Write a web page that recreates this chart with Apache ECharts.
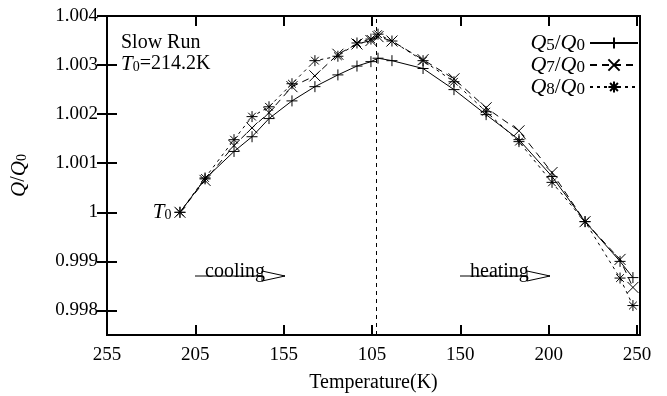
<!DOCTYPE html>
<html>
<head>
<meta charset="utf-8">
<script src="https://cdn.jsdelivr.net/npm/echarts@6/dist/echarts.min.js"></script>
<style>
  html, body { margin: 0; padding: 0; background: #fff; }
  #chart { width: 667px; height: 396px; }
</style>
</head>
<body>
<div id="chart"></div>
<script>
// x is the position along the run: cooling 255 -> 105 K, then heating 105 -> 250 K
const xPos = [41.3, 55.5, 71.9, 82.1, 91.7, 104.7, 117.7, 130.7, 141.5, 149.4,
              153.4, 161.3, 178.9, 196.4, 214.6, 233.2, 251.9, 270.6, 290.4, 297.7];
const q5 = [1.0000, 1.00068, 1.00124, 1.00154, 1.00191, 1.00227, 1.00256, 1.00280, 1.00298, 1.00307,
            1.00314, 1.00309, 1.00293, 1.00250, 1.00199, 1.00148, 1.00073, 0.99981, 0.99900, 0.99867];
const q7 = [1.0000, 1.00065, 1.00136, 1.00172, 1.00203, 1.00256, 1.00278, 1.00322, 1.00343, 1.00350,
            1.00358, 1.00349, 1.00311, 1.00272, 1.00213, 1.00166, 1.00081, 0.99981, 0.99904, 0.99847];
const q8 = [1.0000, 1.00070, 1.00148, 1.00195, 1.00215, 1.00262, 1.00309, 1.00318, 1.00345, 1.00353,
            1.00363, 1.00349, 1.00309, 1.00266, 1.00205, 1.00144, 1.00061, 0.99981, 0.99866, 0.99810];

const xTickPos = [0, 50, 100, 150, 200, 250, 300];
const xTickLabels = ['255', '205', '155', '105', '150', '200', '250'];
const yTicks = [0.998, 0.999, 1.000, 1.001, 1.002, 1.003, 1.004];
const tMinPos = 152.5; // lowest temperature reached

const FONT = 'Liberation Serif';
const plusPath = 'path://M0,5L10,5M5,0L5,10';
const crossPath = 'path://M0,0L10,10M10,0L0,10';
const starPath = 'path://M0,5L10,5M5,0L5,10M1.5,1.5L8.5,8.5M8.5,1.5L1.5,8.5';

const sub = {
    q: { fontFamily: FONT, fontStyle: 'italic', fontSize: 21, color: '#000', lineHeight: 18 },
    n: { fontFamily: FONT, fontSize: 20, color: '#000', lineHeight: 18 },
    s: { fontFamily: FONT, fontSize: 14, color: '#000', lineHeight: 18, padding: [7, 0, 0, 0] },
};
// legend digits are nearly full size
const legRich = {
    q: { fontFamily: FONT, fontStyle: 'italic', fontSize: 22, color: '#000', lineHeight: 18 },
    n: { fontFamily: FONT, fontSize: 21, color: '#000', lineHeight: 18 },
    s: { fontFamily: FONT, fontSize: 17, color: '#000', lineHeight: 18, padding: [5, 0, 0, 0] },
};

function mkSeries(name, values, symbol, dash) {
    return {
        name: name,
        type: 'line',
        data: xPos.map((x, i) => [x, values[i]]),
        symbol: symbol,
        symbolSize: 11,
        showSymbol: true,
        lineStyle: { color: '#000', width: 1, type: dash },
        itemStyle: { color: 'none', borderColor: '#000', borderWidth: 1 },
        emphasis: { disabled: true },
        z: 3,
    };
}

const chart = echarts.init(document.getElementById('chart'));

const series = [
    mkSeries('Q5/Q0', q5, plusPath, 'solid'),
    mkSeries('Q7/Q0', q7, crossPath, [7, 5]),
    mkSeries('Q8/Q0', q8, starPath, [3, 4]),
];
series[0].markLine = {
    silent: true,
    symbol: 'none',
    label: { show: false },
    lineStyle: { color: '#000', width: 1, type: [4, 4] },
    data: [{ xAxis: tMinPos }],
};
series[0].markPoint = {
    silent: true,
    symbol: 'circle',
    symbolSize: 1,
    itemStyle: { color: 'transparent' },
    label: { show: true, position: 'left', distance: 8, formatter: '{q|T}{s|0}', rich: sub },
    data: [{ coord: [xPos[0], q5[0]] }],
};

function arrow(x0, x1, y, text) {
    return [
        { type: 'line', shape: { x1: x0, y1: y, x2: x1, y2: y }, style: { stroke: '#000', lineWidth: 1 } },
        { type: 'polygon', shape: { points: [[x1 - 23, y - 5], [x1, y], [x1 - 23, y + 5]] },
          style: { fill: '#fff', stroke: '#000', lineWidth: 1 } },
        { type: 'text', x: x0 + 10, y: y + 6,
          style: { text: text, font: '20px "' + FONT + '"', fill: '#000', verticalAlign: 'bottom' } },
    ];
}

chart.setOption({
    animation: false,
    backgroundColor: '#fff',
    grid: {
        left: 107, right: 27, top: 16, bottom: 61,
        outerBoundsMode: 'none',
        show: true, borderColor: '#000', borderWidth: 2,
    },
    legend: {
        right: 28,
        top: 32,
        padding: 0,
        orient: 'vertical',
        align: 'right',
        itemWidth: 48,
        itemHeight: 14,
        itemGap: 0,
        selectedMode: false,
        formatter: name => '{q|Q}{s|' + name[1] + '}{n|/}{q|Q}{s|0}',
        textStyle: { fontFamily: FONT, fontSize: 21, color: '#000', rich: legRich },
        data: ['Q5/Q0', 'Q7/Q0', 'Q8/Q0'],
    },
    xAxis: [{
        type: 'value',
        min: 0,
        max: 301.7,
        name: 'Temperature(K)',
        nameLocation: 'middle',
        nameGap: 38,
        nameTextStyle: { fontFamily: FONT, fontSize: 20, color: '#000' },
        axisLine: { show: false },
        splitLine: { show: false },
        axisTick: { inside: true, length: 10, customValues: xTickPos, lineStyle: { color: '#000', width: 2 } },
        axisLabel: {
            customValues: xTickPos, margin: 11, color: '#000', fontFamily: FONT, fontSize: 19,
            formatter: v => xTickLabels[xTickPos.indexOf(Math.round(v))],
        },
    }, {
        type: 'value',
        position: 'top',
        min: 0,
        max: 301.7,
        axisLine: { show: false },
        splitLine: { show: false },
        axisLabel: { show: false },
        axisTick: { inside: true, length: 10, customValues: xTickPos, lineStyle: { color: '#000', width: 2 } },
    }],
    yAxis: [{
        type: 'value',
        min: 0.9975,
        max: 1.004,
        name: '{q|Q}{n|/}{q|Q}{s|0}',
        nameLocation: 'middle',
        nameGap: 79,
        nameRotate: 90,
        nameTextStyle: { rich: sub },
        axisLine: { show: false },
        splitLine: { show: false },
        axisTick: { inside: true, length: 10, customValues: yTicks, lineStyle: { color: '#000', width: 2 } },
        axisLabel: {
            customValues: yTicks, margin: 9, color: '#000', fontFamily: FONT, fontSize: 19,
            formatter: v => (Math.abs(v - 1) < 1e-9 ? '1' : v.toFixed(3)),
        },
    }, {
        type: 'value',
        position: 'right',
        min: 0.9975,
        max: 1.004,
        axisLine: { show: false },
        splitLine: { show: false },
        axisLabel: { show: false },
        axisTick: { inside: true, length: 10, customValues: yTicks, lineStyle: { color: '#000', width: 2 } },
    }],
    graphic: [
        { type: 'text', x: 121, y: 33,
          style: { text: 'Slow Run', font: '20px "' + FONT + '"', fill: '#000' } },
        { type: 'text', x: 121, y: 55,
          style: { text: '{q|T}{s|0}{n|=214.2K}', rich: sub, fill: '#000' } },
        ...arrow(195, 285, 276, 'cooling'),
        ...arrow(460, 550, 276, 'heating'),
    ],
    series: series,
});
</script>
</body>
</html>
